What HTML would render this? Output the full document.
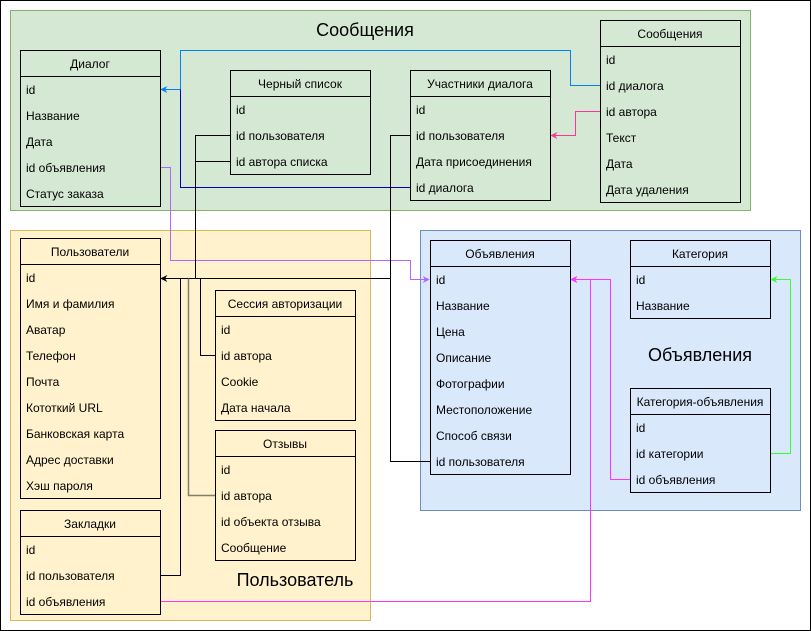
<!DOCTYPE html>
<html><head><meta charset="utf-8"><style>
html,body{margin:0;padding:0;background:#fff;}
svg{display:block;font-family:"Liberation Sans",sans-serif;}
</style></head><body>
<svg width="811" height="631" viewBox="0 0 811 631" xmlns="http://www.w3.org/2000/svg">
<defs>
<marker id="a" viewBox="0 0 10 10" refX="9" refY="5" markerWidth="7" markerHeight="7" orient="auto"><path d="M0,0 L10,5 L0,10 L3,5 z" fill="context-stroke"/></marker>
</defs>
<rect x="0.5" y="0.5" width="810" height="630" fill="#fff" stroke="#000"/>
<rect x="10.5" y="10.5" width="740" height="200" fill="#d5e8d4" stroke="#82b366"/>
<rect x="10.5" y="230.5" width="360" height="390" fill="#fff2cc" stroke="#d6b656"/>
<rect x="420.5" y="230.5" width="380" height="280" fill="#dae8fc" stroke="#6c8ebf"/>
<g font-size="18" fill="#000" text-anchor="middle">
<text x="365" y="36">Сообщения</text>
<text x="700" y="361">Объявления</text>
<text x="295" y="586">Пользователь</text>
</g>
<g fill="none" stroke-width="1">
<path d="M600.5,85.5 H570.5 V50.5 H180.5 V89.5 H161" stroke="#007FFF" marker-end="url(#a)"/>
<path d="M410.5,187.5 H180.5 V89.5" stroke="#0000cc"/>
<path d="M600.5,111.5 H575.5 V135.5 H551" stroke="#FF3399" marker-end="url(#a)"/>
<path d="M160.5,167.5 H170.5 V260.5 H410.5 V279.5 H429" stroke="#B266FF" marker-end="url(#a)"/>
<path d="M160.5,601.5 H590.5 V279.5 H571" stroke="#FF33FF" marker-end="url(#a)"/>
<path d="M630.5,479.5 H610.5 V279.5 H571" stroke="#FF33FF" marker-end="url(#a)"/>
<path d="M770.5,453.5 H790.5 V279.5 H771" stroke="#33FF33" marker-end="url(#a)"/>
<path d="M430.5,461.5 H390.5 V135.5 H410.5" stroke="#000"/>
<path d="M390.5,278.5 H161" stroke="#000" marker-end="url(#a)"/>
<path d="M230.5,135.5 H195.5 V278.5 M230.5,161.5 H195.5" stroke="#000"/>
<path d="M215.5,355.5 H200.5 V278.5" stroke="#000"/>
<path d="M215.5,495.5 H188.5 V278.5" stroke="#7f7f6a" stroke-width="1.5"/>
<path d="M160.5,575.5 H180.5 V278.5" stroke="#000"/>
</g>
<g font-size="12" fill="#000" stroke="#000">
<g><rect x="20.5" y="50.5" width="140" height="156" fill="none"/><line x1="20.5" y1="76.5" x2="160.5" y2="76.5"/></g>
<g><rect x="230.5" y="70.5" width="140" height="104" fill="none"/><line x1="230.5" y1="96.5" x2="370.5" y2="96.5"/></g>
<g><rect x="410.5" y="70.5" width="140" height="130" fill="none"/><line x1="410.5" y1="96.5" x2="550.5" y2="96.5"/></g>
<g><rect x="600.5" y="20.5" width="140" height="182" fill="none"/><line x1="600.5" y1="46.5" x2="740.5" y2="46.5"/></g>
<g><rect x="20.5" y="238.5" width="140" height="260" fill="none"/><line x1="20.5" y1="264.5" x2="160.5" y2="264.5"/></g>
<g><rect x="20.5" y="510.5" width="140" height="104" fill="none"/><line x1="20.5" y1="536.5" x2="160.5" y2="536.5"/></g>
<g><rect x="215.5" y="290.5" width="140" height="130" fill="none"/><line x1="215.5" y1="316.5" x2="355.5" y2="316.5"/></g>
<g><rect x="215.5" y="430.5" width="140" height="130" fill="none"/><line x1="215.5" y1="456.5" x2="355.5" y2="456.5"/></g>
<g><rect x="430.5" y="240.5" width="140" height="234" fill="none"/><line x1="430.5" y1="266.5" x2="570.5" y2="266.5"/></g>
<g><rect x="630.5" y="240.5" width="140" height="78" fill="none"/><line x1="630.5" y1="266.5" x2="770.5" y2="266.5"/></g>
<g><rect x="630.5" y="388.5" width="140" height="104" fill="none"/><line x1="630.5" y1="414.5" x2="770.5" y2="414.5"/></g>
</g>
<g font-size="12" fill="#000" text-anchor="middle">
<text x="90" y="68">Диалог</text>
<text x="300" y="88">Черный список</text>
<text x="480" y="88">Участники диалога</text>
<text x="670" y="38">Сообщения</text>
<text x="90" y="256">Пользователи</text>
<text x="90" y="528">Закладки</text>
<text x="285" y="308">Сессия авторизации</text>
<text x="285" y="448">Отзывы</text>
<text x="500" y="258">Объявления</text>
<text x="700" y="258">Категория</text>
<text x="700" y="406">Категория-объявления</text>
</g>
<g font-size="12" fill="#000">
<text x="26" y="94">id</text><text x="26" y="120">Название</text><text x="26" y="146">Дата</text><text x="26" y="172">id объявления</text><text x="26" y="198">Статус заказа</text>
<text x="236" y="114">id</text><text x="236" y="140">id пользователя</text><text x="236" y="166">id автора списка</text>
<text x="416" y="114">id</text><text x="416" y="140">id пользователя</text><text x="416" y="166">Дата присоединения</text><text x="416" y="192">id диалога</text>
<text x="606" y="64">id</text><text x="606" y="90">id диалога</text><text x="606" y="116">id автора</text><text x="606" y="142">Текст</text><text x="606" y="168">Дата</text><text x="606" y="194">Дата удаления</text>
<text x="26" y="282">id</text><text x="26" y="308">Имя и фамилия</text><text x="26" y="334">Аватар</text><text x="26" y="360">Телефон</text><text x="26" y="386">Почта</text><text x="26" y="412">Кототкий URL</text><text x="26" y="438">Банковская карта</text><text x="26" y="464">Адрес доставки</text><text x="26" y="490">Хэш пароля</text>
<text x="26" y="554">id</text><text x="26" y="580">id пользователя</text><text x="26" y="606">id объявления</text>
<text x="221" y="334">id</text><text x="221" y="360">id автора</text><text x="221" y="386">Cookie</text><text x="221" y="412">Дата начала</text>
<text x="221" y="474">id</text><text x="221" y="500">id автора</text><text x="221" y="526">id объекта отзыва</text><text x="221" y="552">Сообщение</text>
<text x="436" y="284">id</text><text x="436" y="310">Название</text><text x="436" y="336">Цена</text><text x="436" y="362">Описание</text><text x="436" y="388">Фотографии</text><text x="436" y="414">Местоположение</text><text x="436" y="440">Способ связи</text><text x="436" y="466">id пользователя</text>
<text x="636" y="284">id</text><text x="636" y="310">Название</text>
<text x="636" y="432">id</text><text x="636" y="458">id категории</text><text x="636" y="484">id объявления</text>
</g>
</svg>
</body></html>
